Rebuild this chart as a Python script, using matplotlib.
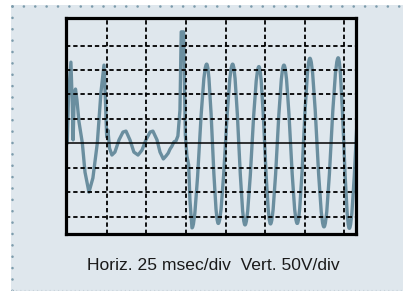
import numpy as np
import matplotlib.pyplot as plt
from matplotlib.path import Path
from matplotlib.patches import PathPatch, Rectangle
from matplotlib.lines import Line2D

plt.rcParams['font.family'] = ['Liberation Sans', 'DejaVu Sans']

# scope settings
ms_per_div = 25
volt_per_div = 50

# irregular start of the trace (time ms, volts)
t_start = [0, 0.8, 2.3, 3.2, 3.7, 4.4, 5.2, 6.1, 7.4, 9.5, 11.2, 13.7, 16.2, 19.0,
           21.3, 23.2, 24.1, 24.9, 25.7, 26.7, 28.2, 30.1, 32.7, 35.2, 37.1, 39.6,
           42.1, 44.7, 47.2, 49.7, 52.3, 54.1, 56.7, 58.6, 60.7, 62.4, 63.8, 64.9,
           66.1, 67.4, 68.7, 69.9, 71.2, 72.0, 73.5, 74.6, 75.6, 76.7, 77.5]
v_start = [0, 99, 166, 78, 7, 99, 111, 89, 44, 1, -59, -100, -71, 1,
           105, 160, 89, 13, 27, -10, -24, -18, 7, 23, 25, 7,
           -18, -24, -14, 7, 23, 25, 7, -18, -32, -26, -20, -12,
           -6, 3, 5, 15, 68, 228, 228, 17, -26, -44, -116]

# peaks / troughs of the steady oscillation (time ms, volts)
t_ext = [78.8, 88.1, 95.4, 104.5, 112.3, 121.1, 128.4, 136.9, 145.3, 153.3,
         162.2, 171.2, 178.2, 186.5]
v_ext = [-173, 162, -164, 162, -167, 157, -165, 160, -164, 174,
         -171, 175, -174, 170]

trace_color = '#6a8e9f'
panel_color = '#dfe7ed'

fig = plt.figure(figsize=(4.03, 2.91), dpi=100)
fig.patch.set_facecolor('white')

# light panel with dotted border
fig.patches.append(Rectangle((11 / 403, 0), 1, 1 - 5 / 291, transform=fig.transFigure,
                             facecolor=panel_color, edgecolor='none', zorder=0))
dots = dict(color='#7d9cac', lw=1.9, linestyle=(0, (0.01, 4.3)),
            dash_capstyle='round', transform=fig.transFigure, zorder=1)
fig.lines.append(Line2D([12 / 403, 1], [1 - 6 / 291] * 2, **dots))
fig.lines.append(Line2D([12 / 403] * 2, [1 - 6 / 291, 0], **dots))
fig.lines.append(Line2D([12 / 403, 1], [1 / 291] * 2, color='#c9d3da', lw=1.0,
                        linestyle=(0, (0.01, 3)), dash_capstyle='round',
                        transform=fig.transFigure, zorder=1))

ax = fig.add_axes([66 / 403, 1 - 234 / 291, 289.8 / 403, 215.7 / 291])
ax.set_zorder(5)
ax.set_facecolor(panel_color)

# build the trace: straight segments for the start, smooth curves between extrema
verts = [(t_start[0], v_start[0])]
codes = [Path.MOVETO]
for t, v in zip(t_start[1:], v_start[1:]):
    verts.append((t, v))
    codes.append(Path.LINETO)
verts.append((t_ext[0], v_ext[0]))
codes.append(Path.LINETO)
for i in range(len(t_ext) - 1):
    dt = t_ext[i + 1] - t_ext[i]
    verts += [(t_ext[i] + 0.36 * dt, v_ext[i]),
              (t_ext[i + 1] - 0.36 * dt, v_ext[i + 1]),
              (t_ext[i + 1], v_ext[i + 1])]
    codes += [Path.CURVE4] * 3
trace = PathPatch(Path(verts, codes), fill=False, edgecolor=trace_color, lw=2.4,
                  joinstyle='round', capstyle='round', zorder=2)
ax.add_patch(trace)

# graticule
dash = (0, (2.4, 1.6))
for k in range(1, 8):
    ax.axvline(k * ms_per_div, color='black', lw=1.3, linestyle=dash, zorder=3)
for k in [-3, -2, -1, 1, 2, 3, 4]:
    ax.axhline(k * volt_per_div, color='black', lw=1.3, linestyle=dash, zorder=3)
ax.axhline(0, color='black', lw=1.1, zorder=3)

ax.set_xlim(-0.8, 182.3)
ax.set_ylim(-185.6, 255.8)
ax.set_xticks([])
ax.set_yticks([])
for s in ax.spines.values():
    s.set_linewidth(2.3)
    s.set_color('black')
    s.set_zorder(4)

fig.text(213 / 403, 1 - 265 / 291, 'Horiz. 25 msec/div  Vert. 50V/div',
         ha='center', va='center', fontsize=12.6, color='#1a1a1a')

fig.savefig('out.png', dpi=100, facecolor=fig.get_facecolor())
